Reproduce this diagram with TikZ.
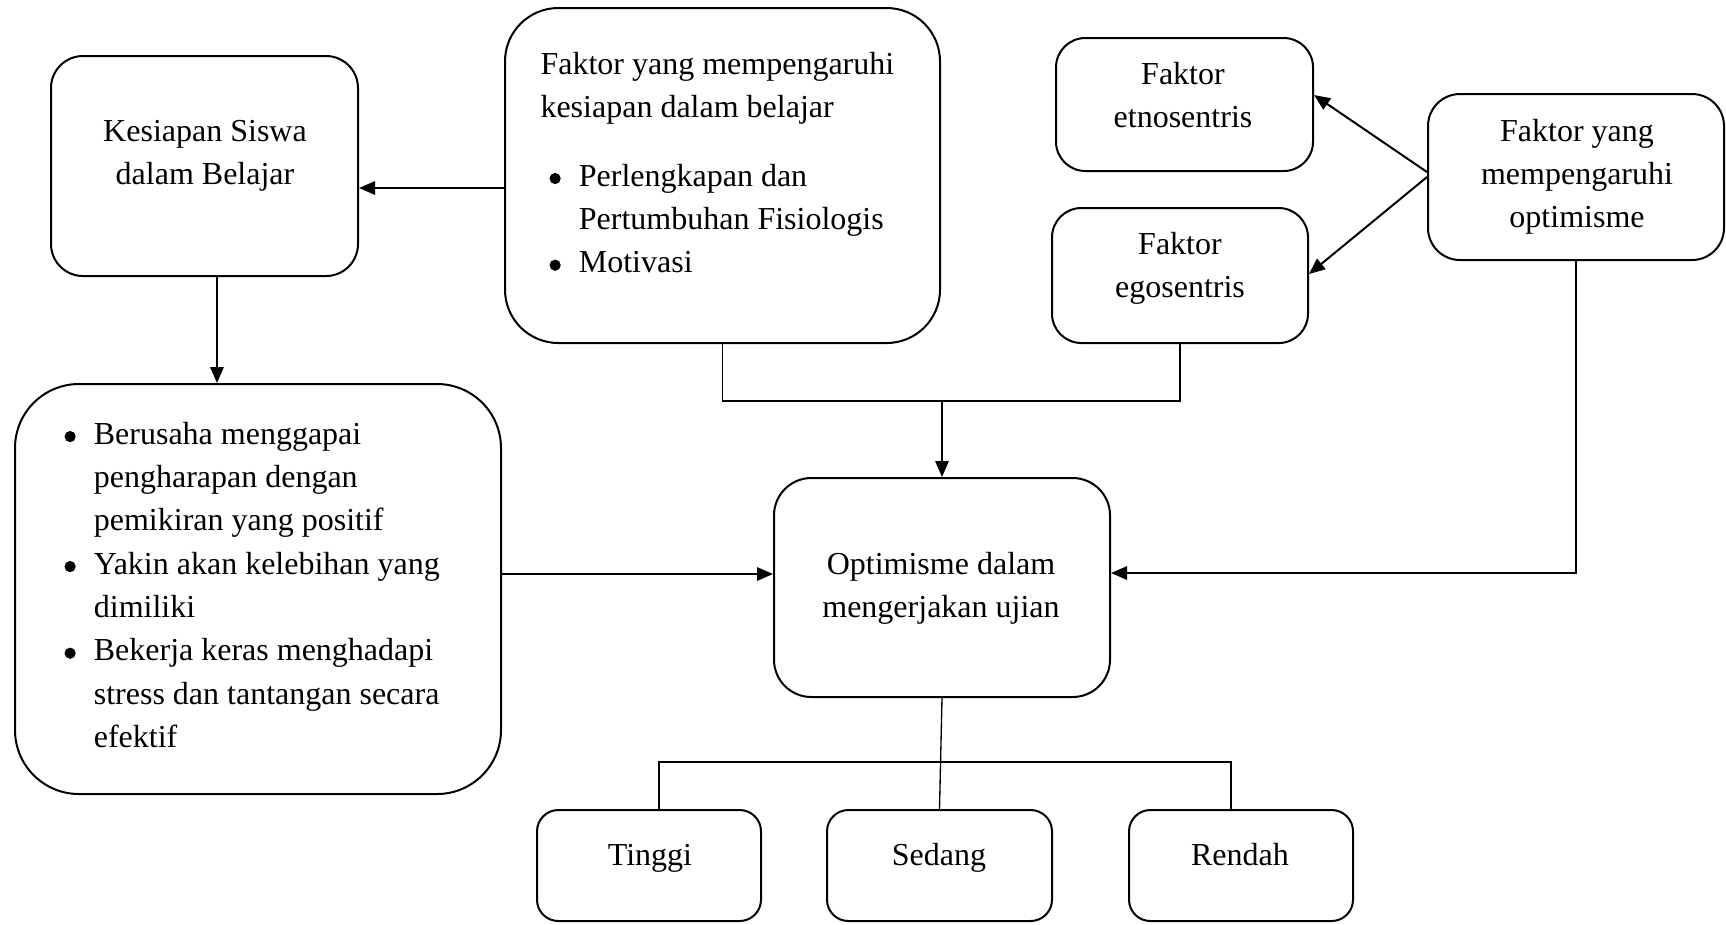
\documentclass[tikz,border=0pt]{standalone}
\usepackage{fontspec}
\setmainfont{Liberation Serif}
\usetikzlibrary{arrows.meta,fit}
\newcommand\ctext[1]{\begin{tabular}[t]{@{}c@{}}#1\end{tabular}}
\newcommand\ltext[1]{\begin{tabular}[t]{@{}l@{}}#1\end{tabular}}
\newcommand\bul{\makebox[11pt][l]{\tikz[baseline=0pt]\fill (2.1pt,2.8pt) circle (2.1pt);}}
\newcommand\ind{\hspace*{11pt}}
\begin{document}
\begin{tikzpicture}[x=0.375pt,y=-0.375pt,
  box/.style={draw, line width=0.75pt, inner sep=0pt, rounded corners=#1},
  txt/.style={inner sep=0pt, font=\fontsize{12}{16.25}\selectfont},
  arr/.style={line width=0.75pt, -{Triangle[length=6pt,width=5pt]}},
  ln/.style={line width=0.5pt}]
\useasboundingbox (0,0) rectangle (1726,924);
% boxes
\node[box=12pt, fit={(51,56) (358,276)}] (kes) {};
\node[box=20pt, fit={(505,8) (940,343)}] (fk) {};
\node[box=11pt, fit={(1056,38) (1313,171)}] (etn) {};
\node[box=11pt, fit={(1052,208) (1308,343)}] (ego) {};
\node[box=12pt, fit={(1428,94) (1724,260)}] (fo) {};
\node[box=24pt, fit={(15,384) (501,794)}] (bb) {};
\node[box=14pt, fit={(774,478) (1110,697)}] (opt) {};
\node[box=8pt, fit={(537,810) (761,921)}] (tin) {};
\node[box=8pt, fit={(827,810) (1052,921)}] (sed) {};
\node[box=8pt, fit={(1129,810) (1353,921)}] (ren) {};
% texts
\node[txt, anchor=base] (kest) at (205,141) {\ctext{Kesiapan Siswa\\dalam Belajar}};
\node[txt, anchor=base west] (fkt) at (540,74) {\ltext{Faktor yang mempengaruhi\\kesiapan dalam belajar}};
\node[txt, anchor=base west] (fkb) at (549,186) {\ltext{\bul Perlengkapan dan\\\ind Pertumbuhan Fisiologis\\\bul Motivasi}};
\node[txt, anchor=base] (etnt) at (1183,84) {\ctext{Faktor\\etnosentris}};
\node[txt, anchor=base] (egot) at (1180,254) {\ctext{Faktor\\egosentris}};
\node[txt, anchor=base] (fot) at (1577,141) {\ctext{Faktor yang\\mempengaruhi\\optimisme}};
\node[txt, anchor=base west] (bbt) at (64,444) {\ltext{\bul Berusaha menggapai\\\ind pengharapan dengan\\\ind pemikiran yang positif\\\bul Yakin akan kelebihan yang\\\ind dimiliki\\\bul Bekerja keras menghadapi\\\ind stress dan tantangan secara\\\ind efektif}};
\node[txt, anchor=base] (optt) at (941,574) {\ctext{Optimisme dalam\\mengerjakan ujian}};
\node[txt, anchor=base] (tint) at (650,865) {Tinggi};
\node[txt, anchor=base] (sedt) at (939,865) {Sedang};
\node[txt, anchor=base] (rent) at (1240,865) {Rendah};
% connectors
\draw[arr] (fk.west |- 0,188) -- (kes.east |- 0,188);
\draw[arr] (kes.south -| 217,0) -- (bb.north -| 217,0);
\draw[ln] (fk.south) |- (ego.south |- 0,401) -- (ego.south);
\draw[arr] (opt.north |- 0,401) -- (opt.north);
\draw[arr] (fo.west |- 0,172) -- (etn.east |- 0,95);
\draw[arr] (fo.west |- 0,177) -- (ego.east |- 0,274);
\draw[arr] (fo.south) |- (opt.east |- 0,573);
\draw[arr] (bb.east |- 0,574) -- (opt.west |- 0,574);
\coordinate (j) at (opt.south |- 0,762);
\draw[ln] (opt.south) -- (sed.north);
\draw[ln] (tin.north -| 659,0) |- (j) -| (ren.north -| 1231,0);
\end{tikzpicture}
\end{document}
